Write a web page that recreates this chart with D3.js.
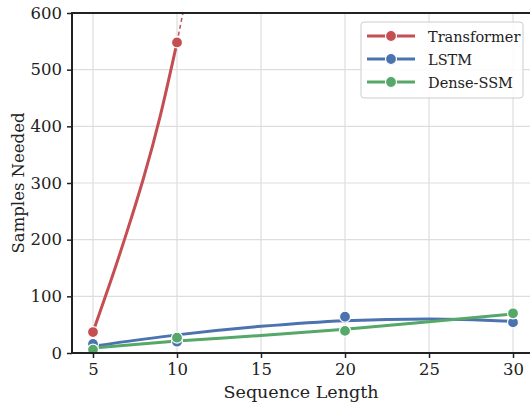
<!DOCTYPE html>
<html>
<head>
<meta charset="utf-8">
<script src="https://cdn.jsdelivr.net/npm/d3@7"></script>
<style>
  body { margin: 0; background: #fff; }
  svg text { font-family: "DejaVu Serif", serif; fill: #222; }
</style>
</head>
<body>
<svg id="chart" width="530" height="403"></svg>
<script>
// measured points
var seqLen = [5, 10, 20, 30];
var transformerPts = [37, 548];            // only 5 and 10 fit in the budget
var lstmPts = [16, 20, 64, 54];
var ssmPts = [6, 27, 39, 70];

// trend curves
var trendX = [5, 10, 15, 20, 25, 30];
var lstmTrend = [12, 32, 47, 57, 60, 56];
var ssmTrend = [9, 21, 31, 42, 55, 69];
var transformerTrendX = [5, 6, 7, 8, 9, 10];
var transformerTrend = [37, 122, 212, 308, 418, 548];
var transformerDashX = [10, 10.5];
var transformerDash = [548, 622];

var xTicks = [5, 10, 15, 20, 25, 30];
var yTicks = [0, 100, 200, 300, 400, 500, 600];

var seriesNames = ["Transformer", "LSTM", "Dense-SSM"];
var colors = ["#C44E52", "#4C72B0", "#55A868"];

var svg = d3.select("#chart"),
    pLeft = 72, pRight = 532, pTop = 13, pBottom = 353;

var x = d3.scaleLinear().domain([3.75, 31.13]).range([pLeft, pRight]);
var y = d3.scaleLinear().domain([0, 600]).range([pBottom, pTop]);

svg.append("defs").append("clipPath").attr("id", "plotclip")
  .append("rect").attr("x", pLeft).attr("y", pTop)
  .attr("width", pRight - pLeft).attr("height", pBottom - pTop);

// grid
var grid = svg.append("g");
grid.selectAll(".vg").data(xTicks).enter().append("line")
  .attr("x1", d => x(d)).attr("x2", d => x(d))
  .attr("y1", pTop).attr("y2", pBottom)
  .attr("stroke", "#dddddd").attr("stroke-width", 1.2);
grid.selectAll(".hg").data(yTicks).enter().append("line")
  .attr("x1", pLeft).attr("x2", pRight)
  .attr("y1", d => y(d)).attr("y2", d => y(d))
  .attr("stroke", "#dddddd").attr("stroke-width", 1.2);

var plot = svg.append("g").attr("clip-path", "url(#plotclip)");
var line = d3.line().x(d => x(d[0])).y(d => y(d[1])).curve(d3.curveMonotoneX);
var smooth = d3.line().x(d => x(d[0])).y(d => y(d[1])).curve(d3.curveNatural);

var trends = [
  smooth(d3.zip(transformerTrendX, transformerTrend)),
  line(d3.zip(trendX, lstmTrend)),
  line(d3.zip(trendX, ssmTrend))
];
trends.forEach(function(t, i) {
  plot.append("path").attr("d", t)
    .attr("fill", "none").attr("stroke", colors[i])
    .attr("stroke-width", 3).attr("stroke-linecap", "round");
});
plot.append("path").attr("d", line(d3.zip(transformerDashX, transformerDash)))
  .attr("fill", "none").attr("stroke", colors[0])
  .attr("stroke-width", 1.5).attr("stroke-dasharray", "4,3");

var points = [
  d3.zip(seqLen.slice(0, 2), transformerPts),
  d3.zip(seqLen, lstmPts),
  d3.zip(seqLen, ssmPts)
];
points.forEach(function(p, i) {
  svg.append("g").selectAll("circle").data(p).enter().append("circle")
    .attr("cx", d => x(d[0])).attr("cy", d => y(d[1])).attr("r", 5.5)
    .attr("fill", colors[i]).attr("stroke", "#fff").attr("stroke-width", 1.2);
});

// frame
svg.append("rect").attr("x", pLeft).attr("y", pTop)
  .attr("width", pRight - pLeft).attr("height", pBottom - pTop)
  .attr("fill", "none").attr("stroke", "#222").attr("stroke-width", 2);

// axes
var xAxis = svg.append("g").attr("transform", "translate(0," + pBottom + ")")
  .call(d3.axisBottom(x).tickValues(xTicks).tickSize(5).tickPadding(5));
var yAxis = svg.append("g").attr("transform", "translate(" + pLeft + ",0)")
  .call(d3.axisLeft(y).tickValues(yTicks).tickSize(5).tickPadding(5));
[xAxis, yAxis].forEach(function(a) {
  a.select(".domain").remove();
  a.selectAll(".tick line").attr("stroke", "#222").attr("stroke-width", 1.5);
  a.selectAll(".tick text").attr("font-size", 16.5)
    .style("font-family", "DejaVu Serif").attr("fill", "#222");
});

svg.append("text").attr("x", (pLeft + pRight) / 2 - 1).attr("y", 398)
  .attr("text-anchor", "middle").attr("font-size", 17.5).text("Sequence Length");
svg.append("text").attr("transform", "translate(24," + ((pTop + pBottom) / 2) + ") rotate(-90)")
  .attr("text-anchor", "middle").attr("font-size", 16.5).text("Samples Needed");

// legend
var legend = svg.append("g");
legend.append("rect").attr("x", 361).attr("y", 22).attr("width", 162).attr("height", 76)
  .attr("rx", 3).attr("fill", "#fff").attr("fill-opacity", 0.85)
  .attr("stroke", "#cccccc").attr("stroke-width", 1);
seriesNames.forEach(function(name, i) {
  var ly = 36 + i * 23;
  legend.append("line").attr("x1", 367).attr("x2", 415).attr("y1", ly).attr("y2", ly)
    .attr("stroke", colors[i]).attr("stroke-width", 3);
  legend.append("circle").attr("cx", 391).attr("cy", ly).attr("r", 5.5)
    .attr("fill", colors[i]).attr("stroke", "#fff").attr("stroke-width", 1.2);
  legend.append("text").attr("x", 428).attr("y", ly + 5.5)
    .attr("font-size", 14.5).text(name);
});
</script>
</body>
</html>
